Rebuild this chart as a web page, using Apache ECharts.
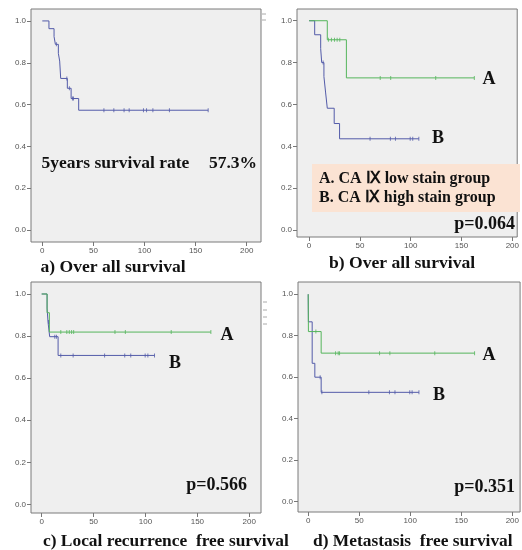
<!DOCTYPE html>
<html>
<head>
<meta charset="utf-8">
<script src="https://cdn.jsdelivr.net/npm/echarts@6/dist/echarts.min.js"></script>
<style>
  html, body {margin: 0; padding: 0; background: #fff;}
  #chart {width: 522px; height: 550px;}
</style>
</head>
<body>
<div id="chart"></div>
<script>
// a) over all survival (all patients)
let aTime = [0, 6.5, 11.5, 12.8, 15.7, 17, 18, 24.5, 28.2, 35.6, 162.3];
let aSurv = [1, 0.963, 0.925, 0.888, 0.845, 0.808, 0.725, 0.678, 0.629, 0.573, 0.573];
let aCens = [13.8, 24, 26.5, 29.5, 30.5, 60.3, 70, 80, 85, 99, 102, 108.2, 124.4, 162.3];

// b) over all survival, A = low stain, B = high stain
let bATime = [0, 17.9, 36.7, 162.6];
let bASurv = [1, 0.909, 0.727, 0.727];
let bACens = [19, 22, 25, 27.6, 30.2, 70, 80.3, 124.6, 162.6];
let bBTime = [0, 5.5, 11.4, 12.4, 14.6, 16.3, 17.9, 24.7, 30, 108];
let bBSurv = [1, 0.933, 0.867, 0.8, 0.733, 0.655, 0.582, 0.509, 0.436, 0.436];
let bBCens = [13.8, 60, 80, 85, 99.5, 102, 108];

// c) local recurrence free survival
let cATime = [0, 5.2, 7.4, 163];
let cASurv = [1, 0.911, 0.819, 0.819];
let cACens = [18.4, 24.2, 26.6, 28.8, 30.8, 70.6, 80.6, 124.8, 163];
let cBTime = [0, 5.2, 6.1, 7.7, 15.8, 108.7];
let cBSurv = [1, 0.933, 0.867, 0.797, 0.708, 0.708];
let cBCens = [6.6, 12.6, 14.2, 18.4, 30.3, 60.6, 80, 85.8, 99.7, 102.3, 108.7];

// d) metastasis free survival
let dATime = [0, 0.2, 12.7, 163];
let dASurv = [1, 0.82, 0.716, 0.716];
let dACens = [7.5, 26.8, 29.4, 30.7, 69.9, 80, 124, 163];
let dBTime = [0, 0.2, 3.9, 6.5, 12.7, 108.5];
let dBSurv = [1, 0.867, 0.667, 0.6, 0.527, 0.527];
let dBCens = [11.7, 13.4, 59.4, 79.6, 85, 99.5, 101.8, 108.5];

let xTicks = [0, 50, 100, 150, 200];
let yTicks = [0, 0.2, 0.4, 0.6, 0.8, 1.0];

let blue = '#535ba9';
let green = '#55b55c';
let serif = "'Liberation Serif', 'Times New Roman', serif";

function survAt(times, survs, t) {
  let s = survs[0];
  for (let i = 0; i < times.length; i++) {
    if (times[i] <= t) s = survs[i];
  }
  return s;
}

function curve(idx, times, survs, color) {
  let data = [];
  for (let i = 0; i < times.length; i++) data.push([times[i], survs[i]]);
  return {
    type: 'line', step: 'end', xAxisIndex: idx, yAxisIndex: idx,
    data: data, symbol: 'none', silent: true,
    lineStyle: {color: color, width: 1}, z: color == green ? 4 : 3
  };
}

function censor(idx, times, survs, cens, color) {
  let data = [];
  for (let t of cens) data.push([t, survAt(times, survs, t)]);
  return {
    type: 'scatter', xAxisIndex: idx, yAxisIndex: idx, data: data,
    symbol: 'rect', symbolSize: [1, 4], silent: true,
    itemStyle: {color: color}, z: 5
  };
}

// grid boxes in px, axis ranges fitted to the tick positions of the picture
let boxes = [
  {left: 31, top: 9, width: 230, height: 233, xmin: -11.06, xmax: 214, ymin: -0.057, ymax: 1.057},
  {left: 297, top: 9, width: 224, height: 228, xmin: -11.9, xmax: 204.8, ymin: -0.033, ymax: 1.056},
  {left: 31, top: 282, width: 230, height: 231, xmin: -10.3, xmax: 211.3, ymin: -0.041, ymax: 1.057},
  {left: 298, top: 282, width: 223, height: 230, xmin: -10, xmax: 207.6, ymin: -0.05, ymax: 1.059}
];

let grids = [], xAxes = [], yAxes = [];
boxes.forEach((b, i) => {
  grids.push({
    left: b.left, top: b.top, width: b.width, height: b.height,
    show: true, backgroundColor: '#efefef', borderColor: '#7a7a7a', borderWidth: 1
  });
  xAxes.push({
    type: 'value', gridIndex: i, min: b.xmin, max: b.xmax,
    splitLine: {show: false},
    axisLine: {show: false, onZero: false},
    axisTick: {show: true, customValues: xTicks, length: 4, lineStyle: {color: '#777'}},
    axisLabel: {customValues: xTicks, margin: 5, fontSize: 8, color: '#555', fontFamily: 'Liberation Sans'}
  });
  yAxes.push({
    type: 'value', gridIndex: i, min: b.ymin, max: b.ymax,
    splitLine: {show: false},
    axisLine: {show: false, onZero: false},
    axisTick: {show: true, customValues: yTicks, length: 4, lineStyle: {color: '#777'}},
    axisLabel: {customValues: yTicks, margin: 5, fontSize: 8, color: '#555', fontFamily: 'Liberation Sans',
      formatter: v => v.toFixed(1)}
  });
});

let series = [
  curve(0, aTime, aSurv, blue), censor(0, aTime, aSurv, aCens, blue),
  curve(1, bBTime, bBSurv, blue), censor(1, bBTime, bBSurv, bBCens, blue),
  curve(1, bATime, bASurv, green), censor(1, bATime, bASurv, bACens, green),
  curve(2, cBTime, cBSurv, blue), censor(2, cBTime, cBSurv, cBCens, blue),
  curve(2, cATime, cASurv, green), censor(2, cATime, cASurv, cACens, green),
  curve(3, dBTime, dBSurv, blue), censor(3, dBTime, dBSurv, dBCens, blue),
  curve(3, dATime, dASurv, green), censor(3, dATime, dASurv, dACens, green)
];

function label(text, x, y, size, align) {
  return {
    type: 'text', z: 10, silent: true,
    style: {
      text: text, x: x, y: y, fill: '#111',
      font: 'bold ' + size + 'px ' + serif,
      textAlign: align || 'left', align: align || 'left',
      textVerticalAlign: 'middle', verticalAlign: 'middle'
    }
  };
}

// faint leftovers of cropped legends next to panels a and c
function dash(x, y) {
  return {type: 'line', silent: true, shape: {x1: x, y1: y, x2: x + 4, y2: y}, style: {stroke: '#aaa', lineWidth: 1}};
}

let graphics = [
  {type: 'rect', z: 1, silent: true, shape: {x: 312, y: 164, width: 208, height: 48}, style: {fill: '#fbe3d3'}},
  label('A. CA Ⅸ low stain group', 319, 178.5, 16),
  label('B. CA Ⅸ high stain group', 319, 198, 16),
  label('5years survival rate', 41.5, 163.5, 17.5),
  label('57.3%', 257, 163.5, 17.5, 'right'),
  label('p=0.064', 515, 224, 18, 'right'),
  label('p=0.566', 247, 485, 18, 'right'),
  label('p=0.351', 515, 487.5, 18, 'right'),
  label('A', 489, 79, 18, 'center'),
  label('B', 438, 138, 18, 'center'),
  label('A', 227, 335, 18, 'center'),
  label('B', 175, 363, 18, 'center'),
  label('A', 489, 355, 18, 'center'),
  label('B', 439, 395, 18, 'center'),
  label('a) Over all survival', 40.5, 267.5, 17.6),
  label('b) Over all survival', 329, 263, 17.6),
  label('c) Local recurrence  free survival', 43, 541.5, 17.4),
  label('d) Metastasis  free survival', 313, 541.5, 17.4),
  dash(262, 14), dash(262, 20),
  dash(263, 302), dash(263, 310), dash(263, 317), dash(263, 324)
];

let myEcharts = echarts.init(document.getElementById('chart'), null, {renderer: 'canvas'});
myEcharts.setOption({
  animation: false,
  grid: grids,
  xAxis: xAxes,
  yAxis: yAxes,
  series: series,
  graphic: graphics
});
</script>
</body>
</html>
